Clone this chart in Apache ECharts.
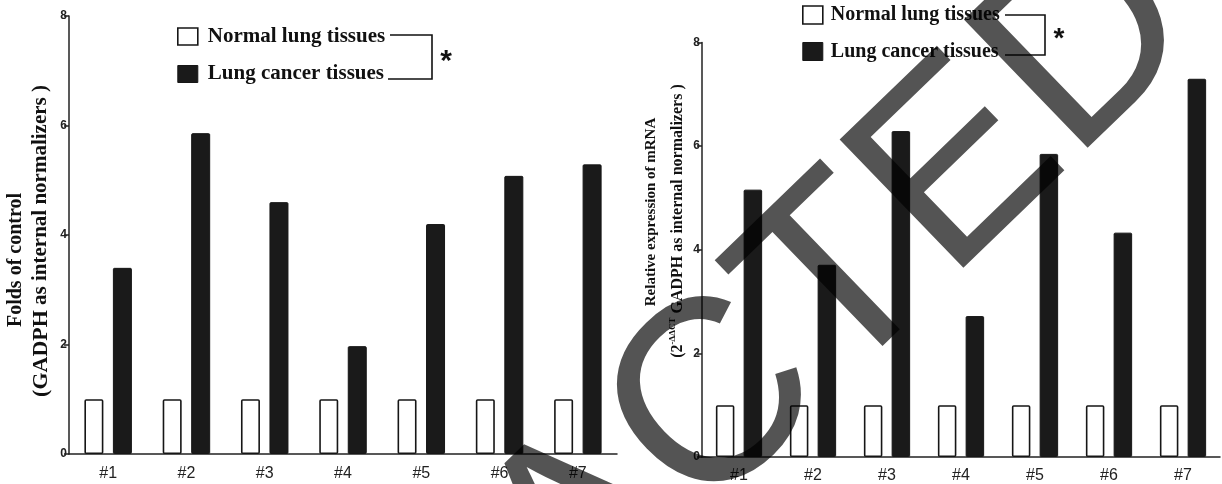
<!DOCTYPE html>
<html>
<head>
<meta charset="utf-8">
<script src="https://cdn.jsdelivr.net/npm/echarts@6/dist/echarts.min.js"></script>
<style>
html,body{margin:0;padding:0;background:#fff;}
#chart{width:1222px;height:484px;}
</style>
</head>
<body>
<div id="chart"></div>
<script>
const categories = ['#1', '#2', '#3', '#4', '#5', '#6', '#7'];
const seriesNames = ['Normal lung tissues', 'Lung cancer tissues'];
const leftNormal = [1, 1, 1, 1, 1, 1, 1];
const leftCancer = [3.40, 5.86, 4.60, 1.97, 4.20, 5.08, 5.29];
const rightNormal = [1, 1, 1, 1, 1, 1, 1];
const rightCancer = [5.16, 3.71, 6.29, 2.72, 5.85, 4.33, 7.30];
const yMin = 0, yMax = 8, yStep = 2;
const leftTitle1 = 'Folds of control';
const leftTitle2a = '(GADPH';
const leftTitle2b = ' as internal normalizers )';
const rightTitle1 = 'Relative expression of mRNA';
const rightTitle2a = '(2';
const rightTitle2sup = '-ΔΔCT';
const rightTitle2b = ' GADPH as internal normalizers )';
const watermark = 'RETRACTED';
const signif = '*';

const ink = '#161616';
const serif = '"Liberation Serif", "Times New Roman", serif';
const sans = '"Liberation Sans", Arial, sans-serif';

const chart = echarts.init(document.getElementById('chart'), null, {renderer: 'canvas'});

function xAx(gi, margin) {
  return {
    type: 'category', gridIndex: gi, data: categories,
    axisLine: {lineStyle: {color: '#222', width: 1.5}},
    axisTick: {show: false},
    axisLabel: {color: '#222', fontFamily: sans, fontSize: 16, margin: margin}
  };
}
function yAx(gi) {
  return {
    type: 'value', gridIndex: gi, min: yMin, max: yMax, interval: yStep,
    splitLine: {show: false},
    axisLine: {show: true, lineStyle: {color: '#222', width: 1.5}},
    axisTick: {show: true, length: 5, lineStyle: {color: '#222', width: 1.5}},
    axisLabel: {color: '#222', fontFamily: sans, fontWeight: 'bold', fontSize: 12, margin: 2}
  };
}
function normalSeries(i, data, bw) {
  return {
    name: seriesNames[0], type: 'bar', xAxisIndex: i, yAxisIndex: i, data: data,
    barWidth: bw, barGap: '50%',
    itemStyle: {color: '#fff', borderColor: ink, borderWidth: 1.6, borderRadius: 1},
    emphasis: {disabled: true}
  };
}
function cancerSeries(i, data, bw) {
  return {
    name: seriesNames[1], type: 'bar', xAxisIndex: i, yAxisIndex: i, data: data,
    barWidth: bw, barGap: '50%',
    itemStyle: {color: '#1a1a1a', borderColor: ink, borderWidth: 1, borderRadius: 1},
    emphasis: {disabled: true}
  };
}
function legendAt(left, top, fs, iw, ih, gap, tpad) {
  return {
    orient: 'vertical', left: left, top: top, itemWidth: iw, itemHeight: ih, itemGap: gap,
    padding: 0, selectedMode: false,
    textStyle: {fontFamily: serif, fontWeight: 'bold', fontSize: fs, color: '#111', lineHeight: fs, padding: [0, 0, 0, tpad]},
    data: [
      {name: seriesNames[0], icon: 'rect', itemStyle: {color: '#fff', borderColor: ink, borderWidth: 1.6}},
      {name: seriesNames[1], icon: 'rect', itemStyle: {color: '#1a1a1a', borderColor: ink, borderWidth: 1}}
    ]
  };
}
function vText(x, y, text, rich, fs) {
  return {
    type: 'text', x: x, y: y, rotation: Math.PI / 2, silent: true,
    style: {text: text, rich: rich, align: 'center', verticalAlign: 'middle',
      font: 'bold ' + fs + 'px ' + serif, fill: '#111'}
  };
}

const option = {
  backgroundColor: '#fff',
  animation: false,
  grid: [
    {left: 69, top: 16, width: 548, height: 438},
    {left: 702, top: 42.5, width: 518, height: 414.5}
  ],
  xAxis: [xAx(0, 12), xAx(1, 11)],
  yAxis: [yAx(0), yAx(1)],
  legend: [legendAt(177, 26, 21, 20, 17, 16.5, 5), legendAt(802, 5, 20, 20, 18, 16.5, 3)],
  series: [
    normalSeries(0, leftNormal, 19), cancerSeries(0, leftCancer, 19),
    normalSeries(1, rightNormal, 18.5), cancerSeries(1, rightCancer, 18.5)
  ],
  graphic: [
    vText(16, 260, leftTitle1, {}, 20),
    vText(41, 241, '{a|' + leftTitle2a + '}{b|' + leftTitle2b + '}', {
      a: {fontFamily: serif, fontWeight: 'bold', fontSize: 22, fill: '#111'},
      b: {fontFamily: serif, fontWeight: 'bold', fontSize: 21, fill: '#111'}
    }, 21),
    vText(651, 212, rightTitle1, {}, 15),
    vText(677, 221, '{a|' + rightTitle2a + '}{s|' + rightTitle2sup + '}{a|' + rightTitle2b + '}', {
      a: {fontFamily: serif, fontWeight: 'bold', fontSize: 16, fill: '#111', verticalAlign: 'bottom', lineHeight: 18},
      s: {fontFamily: serif, fontWeight: 'bold', fontSize: 9, fill: '#111', verticalAlign: 'top', lineHeight: 18}
    }, 16),
    {type: 'polyline', silent: true, shape: {points: [[390, 35], [432, 35], [432, 79], [388, 79]]},
      style: {stroke: '#111', lineWidth: 1.6, fill: null}},
    {type: 'text', x: 446, y: 62, silent: true,
      style: {text: signif, font: 'bold 30px ' + sans, fill: '#111', align: 'center', verticalAlign: 'middle'}},
    {type: 'polyline', silent: true, shape: {points: [[1005, 15], [1045, 15], [1045, 55], [1005, 55]]},
      style: {stroke: '#111', lineWidth: 1.6, fill: null}},
    {type: 'text', x: 1059, y: 39, silent: true,
      style: {text: signif, font: 'bold 28px ' + sans, fill: '#111', align: 'center', verticalAlign: 'middle'}},
    {type: 'text', x: 588, y: 531, rotation: 44 * Math.PI / 180, silent: true, z: 100,
      style: {text: watermark, font: '259px ' + sans, fill: 'rgba(0,0,0,0.67)', align: 'center', verticalAlign: 'middle'}}
  ]
};
chart.setOption(option);
</script>
</body>
</html>
